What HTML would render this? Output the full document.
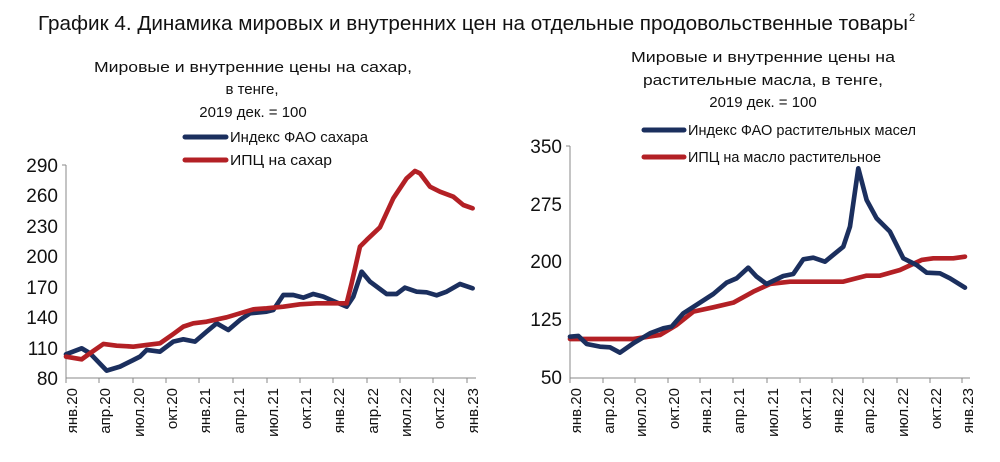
<!DOCTYPE html>
<html><head><meta charset="utf-8"><style>
html,body{margin:0;padding:0;background:#fff;}
svg{display:block;font-family:"Liberation Sans","DejaVu Sans",sans-serif;}
</style></head><body>
<svg width="1000" height="462" viewBox="0 0 1000 462">
<text x="38" y="30" font-size="20" fill="#111" textLength="870" lengthAdjust="spacingAndGlyphs">График 4. Динамика мировых и внутренних цен на отдельные продовольственные товары</text>
<text x="909" y="21" font-size="11" fill="#111">2</text>

<g font-size="15" fill="#111" text-anchor="middle">
<text x="253" y="72" textLength="318" lengthAdjust="spacingAndGlyphs">Мировые  и внутренние цены на сахар,</text>
<text x="252" y="94">в тенге,</text>
<text x="253" y="117">2019 дек. = 100</text>
<text x="763" y="62" textLength="264" lengthAdjust="spacingAndGlyphs">Мировые  и внутренние цены на</text>
<text x="763" y="85" textLength="240" lengthAdjust="spacingAndGlyphs">растительные масла, в тенге,</text>
<text x="763" y="107">2019 дек. = 100</text>
</g>
<g stroke-width="5" stroke-linecap="round">
<line x1="185" y1="137" x2="226" y2="137" stroke="#1b2f5e"/>
<line x1="185" y1="160" x2="226" y2="160" stroke="#b32025"/>
<line x1="644" y1="130" x2="684" y2="130" stroke="#1b2f5e"/>
<line x1="644" y1="157" x2="684" y2="157" stroke="#b32025"/>
</g>
<g font-size="15" fill="#111">
<text x="230" y="142" textLength="138" lengthAdjust="spacingAndGlyphs">Индекс ФАО сахара</text>
<text x="230" y="165" textLength="102" lengthAdjust="spacingAndGlyphs">ИПЦ на сахар</text>
<text x="688" y="135" textLength="228" lengthAdjust="spacingAndGlyphs">Индекс ФАО растительных масел</text>
<text x="688" y="162" textLength="193" lengthAdjust="spacingAndGlyphs">ИПЦ на масло растительное</text>
</g>

<g stroke="#888" stroke-width="1">
<line x1="66" y1="165" x2="66" y2="378"/>
<line x1="66" y1="378" x2="476" y2="378"/>
<line x1="566" y1="146" x2="570" y2="146"/>
<line x1="570" y1="146" x2="570" y2="378"/>
<line x1="570" y1="378" x2="970" y2="378"/>
<line x1="62" y1="165" x2="66" y2="165"/>
</g>
<g stroke="#888" stroke-width="1">
<path d="M66 378v5M99 378v5M133 378v5M166 378v5M199 378v5M233 378v5M267 378v5M300 378v5M333 378v5M367 378v5M400 378v5M433 378v5M467 378v5"/>
<path d="M570 378v5M603 378v5M635 378v5M668 378v5M700 378v5M733 378v5M767 378v5M800 378v5M832 378v5M863 378v5M897 378v5M930 378v5M962 378v5"/>
</g>
<g font-size="19" fill="#111" text-anchor="end">
<text x="58" y="172">290</text><text x="58" y="202">260</text><text x="58" y="233">230</text>
<text x="58" y="263">200</text><text x="58" y="294">170</text><text x="58" y="324">140</text>
<text x="58" y="355">110</text><text x="58" y="385">80</text>
<text x="562" y="153">350</text><text x="562" y="211">275</text><text x="562" y="268">200</text>
<text x="562" y="326">125</text><text x="562" y="384">50</text>
</g>
<g font-size="15" fill="#111" text-anchor="end">
<text transform="translate(77,388) rotate(-90)">янв.20</text>
<text transform="translate(110,388) rotate(-90)">апр.20</text>
<text transform="translate(144,388) rotate(-90)">июл.20</text>
<text transform="translate(177,388) rotate(-90)">окт.20</text>
<text transform="translate(210,388) rotate(-90)">янв.21</text>
<text transform="translate(244,388) rotate(-90)">апр.21</text>
<text transform="translate(278,388) rotate(-90)">июл.21</text>
<text transform="translate(311,388) rotate(-90)">окт.21</text>
<text transform="translate(344,388) rotate(-90)">янв.22</text>
<text transform="translate(378,388) rotate(-90)">апр.22</text>
<text transform="translate(411,388) rotate(-90)">июл.22</text>
<text transform="translate(444,388) rotate(-90)">окт.22</text>
<text transform="translate(478,388) rotate(-90)">янв.23</text>
<text transform="translate(581,388) rotate(-90)">янв.20</text>
<text transform="translate(614,388) rotate(-90)">апр.20</text>
<text transform="translate(646,388) rotate(-90)">июл.20</text>
<text transform="translate(679,388) rotate(-90)">окт.20</text>
<text transform="translate(711,388) rotate(-90)">янв.21</text>
<text transform="translate(744,388) rotate(-90)">апр.21</text>
<text transform="translate(778,388) rotate(-90)">июл.21</text>
<text transform="translate(811,388) rotate(-90)">окт.21</text>
<text transform="translate(843,388) rotate(-90)">янв.22</text>
<text transform="translate(874,388) rotate(-90)">апр.22</text>
<text transform="translate(908,388) rotate(-90)">июл.22</text>
<text transform="translate(941,388) rotate(-90)">окт.22</text>
<text transform="translate(973,388) rotate(-90)">янв.23</text>
</g>

<g fill="none" stroke-linejoin="round" stroke-linecap="round">
<g transform="translate(0,140) scale(0.3333)" stroke-width="14">
<polyline stroke="#1b2f5e" points="198,643 245,625 270,640 320,692 360,680 400,660 420,650 440,630 480,635 520,605 550,598 585,605 620,575 650,550 685,570 720,540 750,520 800,515 820,510 850,465 880,465 910,473 940,462 970,470 1000,483 1040,500 1060,470 1085,395 1110,425 1160,462 1190,462 1215,443 1250,455 1280,457 1310,466 1340,455 1380,432 1418,445"/>
<polyline stroke="#b32025" points="198,650 245,658 270,640 310,612 350,617 400,620 440,615 480,610 520,582 550,560 580,550 620,545 680,532 720,520 760,508 800,505 850,500 900,493 950,490 1000,490 1040,490 1055,430 1080,320 1100,300 1140,262 1180,175 1220,115 1245,93 1260,100 1290,140 1320,155 1360,170 1390,195 1418,205"/>
</g>
<g transform="translate(500,140) scale(0.3333)" stroke-width="14">
<polyline stroke="#b32025" points="210,597 400,597 480,585 530,555 580,515 640,502 700,488 760,455 810,432 870,425 1030,425 1100,407 1140,407 1200,390 1265,360 1300,355 1360,355 1395,350"/>
<polyline stroke="#1b2f5e" points="210,590 235,588 260,612 300,620 330,622 360,638 400,610 450,580 490,565 515,560 550,520 600,488 640,462 680,428 710,415 745,383 770,410 800,432 850,408 880,402 910,358 940,353 975,365 1030,320 1050,260 1075,85 1100,180 1130,235 1170,275 1210,355 1250,375 1280,398 1320,400 1350,415 1395,443"/>
</g>
</g>
</svg>
</body></html>
